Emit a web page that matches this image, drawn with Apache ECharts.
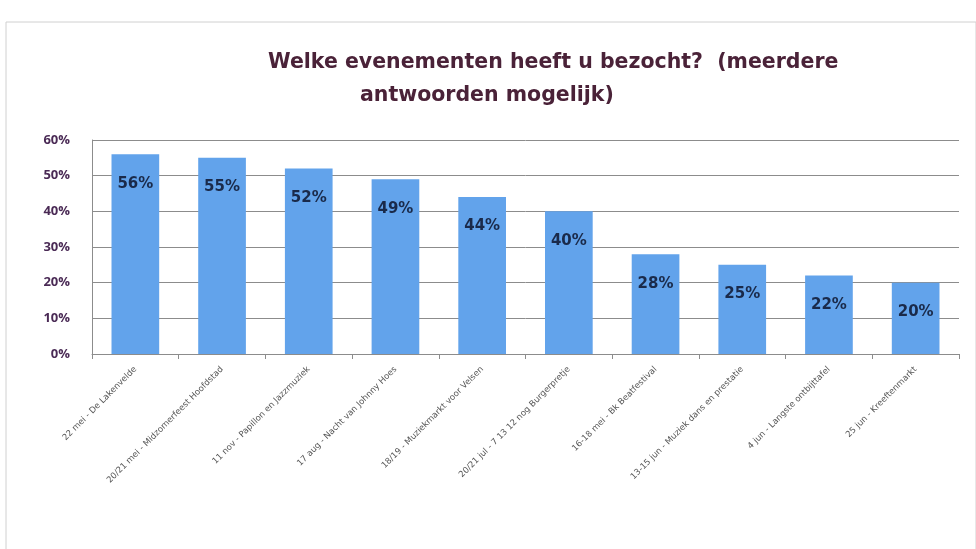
<!DOCTYPE html>
<html>
<head>
<meta charset="utf-8">
<script src="https://cdn.jsdelivr.net/npm/echarts@6/dist/echarts.min.js"></script>
<style>
  html, body { margin: 0; padding: 0; background: #fff; }
  #main { width: 976px; height: 549px; }
</style>
</head>
<body>
<div id="main"></div>
<script>
// categorieën (slecht leesbaar in het origineel, zo goed mogelijk overgenomen)
var categories = [
  '22 mei - De Lakenvelde',
  '20/21 mei - Midzomerfeest Hoofdstad',
  '11 nov - Papillon en Jazzmuziek',
  '17 aug - Nacht van Johnny Hoes',
  '18/19 - Muziekmarkt voor Velsen',
  '20/21 jul - 7 13 12 nog Burgerpretje',
  '16-18 mei - Bk Beatfestival',
  '13-15 jun - Muziek dans en prestatie',
  '4 jun - Langste ontbijttafel',
  '25 jun - Kreeftenmarkt'
];
var percentages = [56, 55, 52, 49, 44, 40, 28, 25, 22, 20];
var yTicks = [0, 10, 20, 30, 40, 50, 60];

var chart = echarts.init(document.getElementById('main'));

var titleStyle = {
  fontFamily: 'DejaVu Sans',
  fontSize: 20.5,
  fontWeight: 'bold',
  color: '#4a2238'
};

chart.setOption({
  backgroundColor: '#fff',
  animation: false,
  title: [{
    text: 'Welke evenementen heeft u bezocht?  (meerdere',
    left: 263,
    top: 47,
    textStyle: titleStyle
  }, {
    text: 'antwoorden mogelijk)',
    left: 355,
    top: 80,
    textStyle: titleStyle
  }],
  graphic: [{
    type: 'rect',
    shape: { x: 6, y: 22, width: 970, height: 530 },
    style: { fill: 'none', stroke: '#d0d0d0', lineWidth: 1 },
    silent: true
  }],
  grid: { left: 92, right: 17, top: 140, bottom: 195 },
  xAxis: {
    type: 'category',
    data: categories,
    axisLine: { lineStyle: { color: '#8c8c8c' } },
    axisTick: { show: true, alignWithLabel: false, length: 5, lineStyle: { color: '#8c8c8c' } },
    axisLabel: {
      rotate: 45,
      interval: 0,
      fontSize: 8.5,
      color: '#555',
      margin: 14,
      fontFamily: 'DejaVu Sans'
    }
  },
  yAxis: {
    type: 'value',
    min: 0,
    max: 60,
    interval: 10,
    axisLine: { show: true, lineStyle: { color: '#8c8c8c' } },
    axisTick: { show: false },
    splitLine: { lineStyle: { color: '#8c8c8c', width: 1 } },
    axisLabel: {
      formatter: function (v) { return yTicks.indexOf(v) >= 0 ? v + '%' : ''; },
      color: '#4a2a55',
      fontSize: 13,
      fontWeight: 'bold',
      fontFamily: 'Open Sans',
      margin: 22
    }
  },
  series: [{
    type: 'bar',
    data: percentages,
    barWidth: '55%',
    itemStyle: { color: '#62a3eb' },
    label: {
      show: true,
      position: 'insideTop',
      distance: 22,
      formatter: '{c}%',
      color: '#1a2a4a',
      fontSize: 15,
      fontWeight: 'bold',
      fontFamily: 'DejaVu Sans'
    }
  }]
});
</script>
</body>
</html>
